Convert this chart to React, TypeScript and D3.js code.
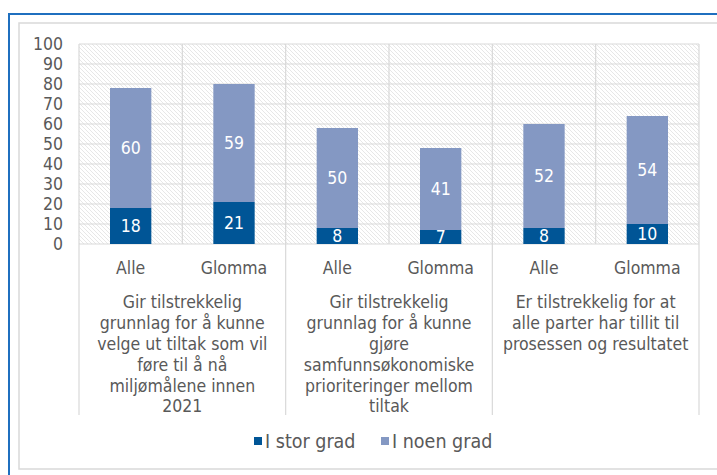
import * as d3 from "d3";
import React, { useEffect, useRef } from "react";

const bars = ["Alle", "Glomma", "Alle", "Glomma", "Alle", "Glomma"];
const groupLabels = [
  ["Gir tilstrekkelig", "grunnlag for å kunne", "velge ut tiltak som vil", "føre til å nå", "miljømålene innen", "2021"],
  ["Gir tilstrekkelig", "grunnlag for å kunne", "gjøre", "samfunnsøkonomiske", "prioriteringer mellom", "tiltak"],
  ["Er tilstrekkelig for at", "alle parter har tillit til", "prosessen og resultatet"],
];
const storGrad = [18, 21, 8, 7, 8, 10];
const noenGrad = [60, 59, 50, 41, 52, 54];
const seriesNames = ["I stor grad", "I noen grad"];
const yTicks = [0, 10, 20, 30, 40, 50, 60, 70, 80, 90, 100];

const DARK = "#005596";
const LIGHT = "#8498c3";
const TEXT = "#595959";
const GRID = "#d9d9d9";
const FONT = "'DejaVu Sans Condensed', 'DejaVu Sans', sans-serif";
const FS = 17.5;

const App = () => {
  const svgRef = useRef<SVGSVGElement>(null);

  useEffect(() => {
    const w = 717;
    const h = 475;
    const svg = d3.select(svgRef.current).attr("width", w).attr("height", h);
    svg.selectAll("*").remove();

    // ramme
    svg.append("rect").attr("x", 19).attr("y", 23).attr("width", 720).attr("height", 446)
      .attr("fill", "#fff").attr("stroke", GRID).attr("stroke-width", 1.5);
    svg.append("path").attr("d", `M9,${h} V14 H${w}`)
      .attr("fill", "none").attr("stroke", "#1f6fbf").attr("stroke-width", 2);

    // skravering
    const defs = svg.append("defs");
    const pat = defs.append("pattern").attr("id", "hatch")
      .attr("patternUnits", "userSpaceOnUse").attr("width", 4).attr("height", 4);
    pat.append("rect").attr("width", 4).attr("height", 4).attr("fill", "#fff");
    pat.append("path").attr("d", "M0,0 L4,4 M-1,3 L1,5 M3,-1 L5,1")
      .attr("stroke", "#e4e4e4").attr("stroke-width", 0.9);

    const x = d3.scaleBand<number>().domain(d3.range(bars.length)).range([79, 699]).padding(0);
    const y = d3.scaleLinear().domain([0, 100]).range([244, 44]);
    const bw = x.bandwidth() * 0.4;

    svg.append("rect").attr("x", 79).attr("y", y(100)).attr("width", 620).attr("height", y(0) - y(100))
      .attr("fill", "url(#hatch)");

    // rutenett
    svg.append("g").selectAll("line").data(yTicks).enter().append("line")
      .attr("x1", 79).attr("x2", 699).attr("y1", d => y(d)).attr("y2", d => y(d))
      .attr("stroke", GRID).attr("stroke-width", 1.2);
    svg.append("g").selectAll("line").data(d3.range(bars.length + 1)).enter().append("line")
      .attr("x1", d => 79 + d * x.step()).attr("x2", d => 79 + d * x.step())
      .attr("y1", y(100)).attr("y2", d => (d % 2 === 0 ? 415 : y(0)))
      .attr("stroke", GRID).attr("stroke-width", 1.2);

    // y-akse
    svg.append("g").selectAll("text").data(yTicks).enter().append("text")
      .attr("x", 63).attr("y", d => y(d)).attr("dy", "0.36em").attr("text-anchor", "end")
      .attr("font-family", FONT).attr("font-size", FS).attr("fill", TEXT).text(d => d);

    // stolper
    const g = svg.append("g");
    bars.forEach((_, i) => {
      const cx = (x(i) as number) + x.bandwidth() / 2;
      const a = storGrad[i];
      const b = noenGrad[i];
      g.append("rect").attr("x", cx - bw / 2).attr("y", y(a)).attr("width", bw).attr("height", y(0) - y(a)).attr("fill", DARK);
      g.append("rect").attr("x", cx - bw / 2).attr("y", y(a + b)).attr("width", bw).attr("height", y(a) - y(a + b)).attr("fill", LIGHT);
      g.append("text").attr("x", cx).attr("y", y(a / 2)).attr("dy", "0.36em").attr("text-anchor", "middle")
        .attr("font-family", FONT).attr("font-size", FS).attr("fill", "#fff").text(a);
      g.append("text").attr("x", cx).attr("y", y(a + b / 2)).attr("dy", "0.36em").attr("text-anchor", "middle")
        .attr("font-family", FONT).attr("font-size", FS).attr("fill", "#fff").text(b);
      svg.append("text").attr("x", cx).attr("y", 268).attr("dy", "0.36em").attr("text-anchor", "middle")
        .attr("font-family", FONT).attr("font-size", FS).attr("fill", TEXT).text(bars[i]);
    });

    // gruppetekster
    groupLabels.forEach((lines, gi) => {
      const cx = 79 + (gi * 2 + 1) * x.step();
      const t = svg.append("text").attr("text-anchor", "middle")
        .attr("font-family", FONT).attr("font-size", FS).attr("fill", TEXT);
      lines.forEach((ln, li) => {
        t.append("tspan").attr("x", cx).attr("y", 302 + li * 20.8).attr("dy", "0.36em").text(ln);
      });
    });

    // forklaring
    const leg = svg.append("g");
    [[254, DARK], [381, LIGHT]].forEach(([lx, c], i) => {
      leg.append("rect").attr("x", lx as number).attr("y", 437).attr("width", 8).attr("height", 8).attr("fill", c as string);
      leg.append("text").attr("x", (lx as number) + 11).attr("y", 441).attr("dy", "0.36em")
        .attr("font-family", FONT).attr("font-size", 19.5).attr("fill", TEXT).text(seriesNames[i]);
    });
  }, []);

  return <svg ref={svgRef} style={{ position: "absolute", left: 0, top: 0 }} />;
};

export default App;
